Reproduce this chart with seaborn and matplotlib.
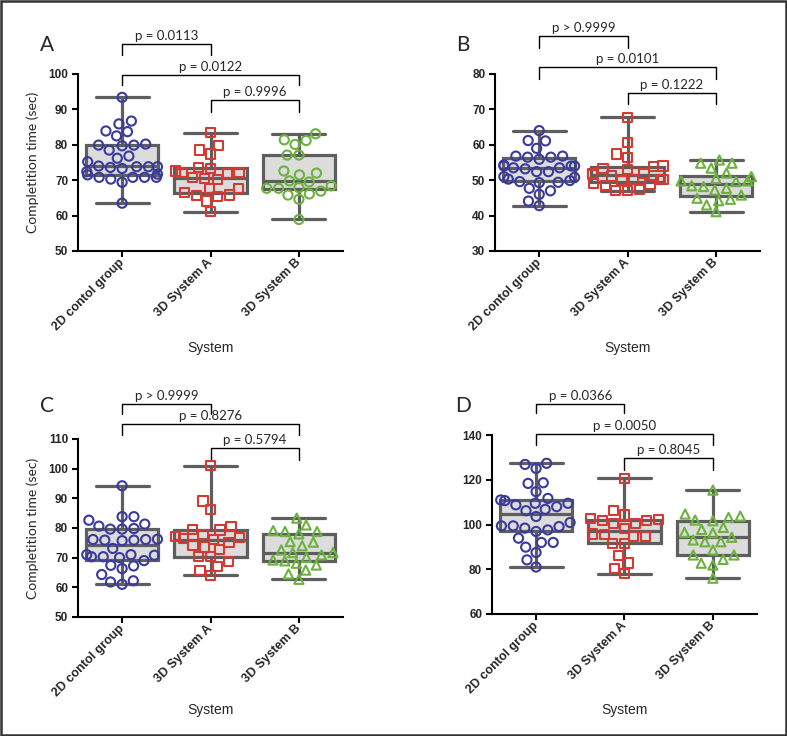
import numpy as np
import pandas as pd
import matplotlib
matplotlib.use("Agg")
import matplotlib.pyplot as plt
import seaborn as sns
from matplotlib.patches import Rectangle

# ---------------- data ----------------
categories = ["2D contol group", "3D System A", "3D System B"]
tick_labels = ["2D contol group", "3D System A", "3D System B"]

a_2d = [93.4, 86.7, 85.9, 83.9, 83.7, 82.5, 80.2, 79.9, 79.9, 79.7, 78.5, 76.8, 76.2, 75.2,
        73.8, 73.6, 73.3, 73.8, 74.0, 73.8, 72.4, 71.7, 70.8, 70.8, 70.3, 70.8, 70.8, 71.5, 69.4, 63.5]
a_sysa = [83.4, 79.7, 78.5, 77.4, 73.6, 73.4, 72.6, 72.2, 72.2, 71.9, 70.7, 70.5, 70.1, 67.7,
          67.7, 66.5, 65.8, 65.6, 65.3, 64.1, 61.1]
a_sysb = [83.1, 81.2, 81.4, 80.1, 77.1, 77.1, 72.6, 71.5, 69.5, 72.0, 69.8, 68.4, 67.7, 66.9,
          66.1, 67.7, 67.9, 65.8, 64.6, 58.9]

b_2d = [64.0, 61.2, 61.1, 59.0, 56.5, 56.8, 56.5, 56.8, 55.9, 54.3, 54.0, 53.5, 53.5, 54.0,
        54.0, 53.2, 52.4, 52.4, 50.8, 50.3, 49.9, 51.0, 49.4, 49.6, 49.3, 47.7, 47.0, 46.0, 44.1, 42.8]
b_sysa = [67.8, 60.6, 57.4, 56.4, 54.0, 53.8, 53.4, 53.1, 51.8, 51.8, 51.5, 51.2, 50.3, 50.3,
          50.2, 49.8, 49.2, 48.8, 48.4, 47.4, 47.0, 47.0]
b_sysb = [55.7, 54.8, 54.8, 53.4, 52.0, 51.0, 49.8, 49.6, 50.5, 49.8, 47.2, 48.4, 47.7, 48.2,
          45.8, 44.2, 44.9, 44.6, 43.0, 41.1]

c_2d = [94.2, 83.8, 83.8, 82.6, 81.3, 80.6, 79.6, 79.8, 79.6, 76.2, 75.9, 75.9, 75.7, 76.1, 76.1,
        73.1, 71.0, 70.3, 70.0, 70.3, 70.8, 71.0, 69.0, 67.2, 66.3, 67.4, 64.3, 62.2, 61.0, 61.8]
c_sysa = [100.9, 89.1, 86.2, 80.6, 79.5, 77.8, 76.1, 76.8, 76.5, 77.0, 79.3, 75.0, 74.2, 72.7,
          73.6, 70.3, 70.3, 67.1, 68.6, 65.8, 64.1]
c_sysb = [83.3, 81.0, 78.8, 78.0, 78.8, 79.1, 75.2, 75.4, 74.0, 70.9, 72.6, 71.7, 71.7, 70.1,
          69.2, 68.9, 67.5, 68.1, 65.8, 64.5, 62.7]

d_2d = [126.9, 127.4, 125.1, 118.4, 118.7, 114.7, 110.7, 109.5, 111.7, 111.0, 108.8, 109.5,
        108.0, 106.2, 106.8, 103.6, 100.9, 97.6, 99.4, 99.1, 99.4, 98.4, 96.9, 93.9, 92.0, 92.0,
        89.9, 87.5, 84.2, 81.0]
d_sysa = [120.7, 106.2, 104.3, 102.4, 101.8, 100.3, 100.6, 101.8, 102.8, 98.4, 95.4, 94.6, 94.6,
          95.8, 91.4, 91.7, 86.0, 82.8, 80.5, 78.0]
d_sysb = [115.4, 103.8, 103.2, 104.7, 102.0, 101.7, 96.5, 97.8, 98.7, 96.3, 94.3, 92.3, 92.3,
          93.1, 88.6, 86.4, 86.4, 84.4, 82.7, 81.9, 76.0]

a_pvalues = ["p = 0.0113", "p = 0.0122", "p = 0.9996"]
b_pvalues = ["p > 0.9999", "p = 0.0101", "p = 0.1222"]
c_pvalues = ["p > 0.9999", "p = 0.8276", "p = 0.5794"]
d_pvalues = ["p = 0.0366", "p = 0.0050", "p = 0.8045"]
comparisons = [(0, 1), (0, 2), (1, 2)]
panel_letters = ["A", "B", "C", "D"]
y_label = "Completition time (sec)"
x_label = "System"

# ---------------- style ----------------
point_colors = ["#3a3a9c", "#d33a33", "#6cb23e"]
box_face = "#dcdcdc"
box_edge = "#5e5e5e"

sns.set_style("ticks")
plt.rcParams["font.family"] = ["Liberation Sans", "DejaVu Sans"]

fig = plt.figure(figsize=(7.87, 7.36), dpi=100)
fig.patch.set_facecolor("white")

panels = [
    dict(groups=[a_2d, a_sysa, a_sysb], markers=["o", "s", "o"], ylim=(50, 100), yticks=np.arange(50, 101, 10),
         pvals=a_pvalues, rect=[0.099, 0.659, 0.337, 0.2405],
         brackets=[(1.169, 1.107), (0.994, 0.938), (0.853, 0.785)], letter_xy=(0.0597, 0.939),
         ylabel=True, xlabel_y=-0.548),
    dict(groups=[b_2d, b_sysa, b_sysb], markers=["o", "s", "^"], ylim=(30, 80), yticks=np.arange(30, 81, 10),
         pvals=b_pvalues, rect=[0.629, 0.659, 0.337, 0.2405],
         brackets=[(1.215, 1.147), (1.04, 0.972), (0.893, 0.831)], letter_xy=(0.588, 0.939),
         ylabel=False, xlabel_y=-0.548),
    dict(groups=[c_2d, c_sysa, c_sysb], markers=["o", "s", "^"], ylim=(50, 110), yticks=np.arange(50, 111, 10),
         pvals=c_pvalues, rect=[0.099, 0.1617, 0.337, 0.242],
         brackets=[(1.197, 1.14), (1.084, 1.022), (0.949, 0.882)], letter_xy=(0.0597, 0.448),
         ylabel=True, xlabel_y=-0.522),
    dict(groups=[d_2d, d_sysa, d_sysb], markers=["o", "s", "^"], ylim=(60, 140), yticks=np.arange(60, 141, 20),
         pvals=d_pvalues, rect=[0.625, 0.1658, 0.337, 0.243],
         brackets=[(1.173, 1.123), (1.006, 0.944), (0.872, 0.804)], letter_xy=(0.588, 0.448),
         ylabel=False, xlabel_y=-0.536),
]

for letter, p in zip(panel_letters, panels):
    ax = fig.add_axes(p["rect"])
    groups = p["groups"]
    df = pd.DataFrame({
        "System": np.repeat(categories, [len(g) for g in groups]),
        "Time": np.concatenate(groups),
    })
    df["System"] = pd.Categorical(df["System"], categories)

    sns.boxplot(data=df, x="System", y="Time", order=categories, whis=(0, 100), showfliers=False,
                width=0.82, color=box_face, saturation=1, linecolor=box_edge, linewidth=2.3,
                capwidths=0.6, ax=ax)

    for i, cat in enumerate(categories):
        sub = df[df["System"] == cat]
        n_before = len(ax.collections)
        sns.swarmplot(data=sub, x="System", y="Time", order=categories, marker=p["markers"][i],
                      size=6.6, color=point_colors[i], ax=ax)
        for coll in ax.collections[n_before:]:
            coll.set_facecolor("none")
            coll.set_edgecolor(point_colors[i])
            coll.set_linewidth(1.5)
            coll.set_zorder(3)

    ax.set_xlim(-0.5, 2.5)
    ax.set_ylim(*p["ylim"])
    ax.set_yticks(p["yticks"])
    ax.set_yticklabels([str(int(v)) for v in p["yticks"]], fontweight="bold", fontsize=8.5)
    ax.set_xticks(range(len(categories)))
    ax.set_xticklabels(tick_labels, rotation=45, ha="right", va="center", rotation_mode="anchor",
                       fontweight="bold", fontsize=9)
    for s in ["top", "right"]:
        ax.spines[s].set_visible(False)
    for s in ["left", "bottom"]:
        ax.spines[s].set_linewidth(1.5)
        ax.spines[s].set_color("black")
    ax.tick_params(axis="both", length=4, width=1.5, color="black", pad=3)
    ax.set_facecolor("white")

    ax.set_xlabel(x_label, fontsize=10)
    ax.xaxis.label.set_va("center")
    ax.xaxis.set_label_coords(0.5, p["xlabel_y"])
    if p["ylabel"]:
        ax.set_ylabel(y_label, fontsize=10, family=["Lato", "DejaVu Sans"])
        ax.yaxis.label.set_va("center")
        ax.yaxis.set_label_coords(-0.17, 0.5)
    else:
        ax.set_ylabel("")

    trans = ax.get_xaxis_transform()
    for (i0, i1), (yl, ye), txt in zip(comparisons, p["brackets"], p["pvals"]):
        ax.plot([i0, i0, i1, i1], [ye, yl, yl, ye], color="black", lw=1.0,
                transform=trans, clip_on=False)
        ax.text((i0 + i1) / 2, yl + 0.012, txt, transform=trans, ha="center", va="bottom",
                fontsize=9.5, family=["Lato", "DejaVu Sans"])

    fig.text(p["letter_xy"][0], p["letter_xy"][1], letter, ha="center", va="center",
             fontsize=15, family=["Lato", "DejaVu Sans"])

fig.patches.append(Rectangle((0.0015, 0.0015), 0.997, 0.997, transform=fig.transFigure,
                             fill=False, ec="#333333", lw=1.8))

fig.savefig("out.png", dpi=100)
